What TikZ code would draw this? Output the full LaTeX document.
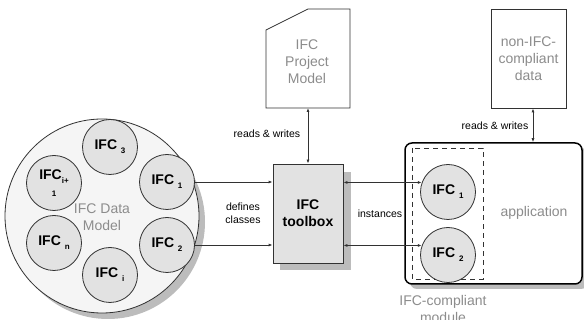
\documentclass[tikz,border=0pt]{standalone}
\usepackage{fontspec}
\setmainfont{Liberation Sans}
\usetikzlibrary{arrows.meta}

\definecolor{shadowgray}{RGB}{188,188,188}
\definecolor{fillgray}{RGB}{226,226,226}
\definecolor{textgray}{RGB}{140,140,140}
\definecolor{linegray}{RGB}{50,50,50}
\newcommand{\ifcsub}[1]{\raisebox{-4pt}{\fontsize{8}{8}\selectfont #1}}

\begin{document}
\begin{tikzpicture}[x=1pt,y=-1pt,line width=0.8pt,
  ifc/.style={circle,draw=linegray,fill=fillgray,minimum size=55pt,inner sep=0pt,font=\fontsize{14}{17}\selectfont\bfseries,align=center},
  note/.style={font=\fontsize{10.5}{13.5}\selectfont,align=center},
  graytext/.style={text=textgray,font=\fontsize{14}{17}\selectfont,align=center},
  link/.style={draw=linegray,-{Latex[length=4pt,width=3pt]}},
  both/.style={draw=linegray,{Latex[length=4pt,width=3pt]}-{Latex[length=4pt,width=3pt]}}]
\useasboundingbox (0,0) rectangle (584,320);
% Data model
\fill[shadowgray] (108,222) circle (97);
\draw[draw=linegray,fill=white!96!black] (102,216) circle (97);
\node[graytext] (dm) at (102,217) {IFC Data\\Model};
\node[ifc] (c3) at (110,147) {IFC \ifcsub{3}};
\node[ifc] (c1) at (167,182) {IFC \ifcsub{1}};
\node[ifc] (c2) at (167,245) {IFC \ifcsub{2}};
\node[ifc] (ci) at (110,275) {IFC \ifcsub{i}};
\node[ifc] (cn) at (54,243) {IFC \ifcsub{n}};
\node[ifc] (cj) at (54,183) {IFC\ifcsub{i+}\\[-4pt]\ifcsub{1}};
% Toolbox
\fill[shadowgray] (280,172) rectangle (351,270);
\node[draw=linegray,fill=fillgray,minimum width=70pt,minimum height=99pt,font=\fontsize{14}{17}\selectfont\bfseries,align=center] (tb) at (308,213.5) {IFC\\toolbox};
% Project model
\draw[draw=linegray,fill=white] (266,30) -- (308,9) -- (350,9) -- (350,108) -- (266,108) -- cycle;
\coordinate (pm) at (308,108);
\node[graytext] (pmtext) at (307,62) {IFC\\Project\\Model};
% Non-IFC data
\node[draw=linegray,fill=white,minimum width=75pt,minimum height=99pt,graytext] (nd) at (528.5,58.5) {non-IFC-\\compliant\\data};
% Application
\fill[shadowgray,rounded corners=7pt] (410,148) rectangle (588,289);
\node[draw=black,line width=1.5pt,fill=white,rounded corners=7pt,minimum width=177pt,minimum height=141pt] (app) at (493.5,213.5) {};
\node[graytext] (apptext) at (534,213) {application};
\draw[draw=linegray,dashed,dash pattern=on 5pt off 4pt] (412,148) rectangle (483,279);
\node[ifc] (a1) at (448,192) {IFC \ifcsub{1}};
\node[ifc] (a2) at (448,255) {IFC \ifcsub{2}};
\node[graytext] (mod) at (443,309) {IFC-compliant\\module};
% Connectors
\draw[link] (c1.east) -- (c1.east -| tb.west);
\draw[link] (c2.east) -- (c2.east -| tb.west);
\draw[both] (tb.north) -- (pm);
\draw[both] (a1.160 -| tb.east) -- (a1.160);
\draw[both] (a2.160 -| tb.east) -- (a2.160);
\draw[both] ([xshift=4.5pt]nd.south) -- ([xshift=4.5pt]nd.south |- app.north);
% Labels
\node[note] at (267,134) {reads \& writes};
\node[note] at (495,126) {reads \& writes};
\node[note] at (243,213) {defines\\classes};
\node[note] at (380,214) {instances};
\end{tikzpicture}
\end{document}
